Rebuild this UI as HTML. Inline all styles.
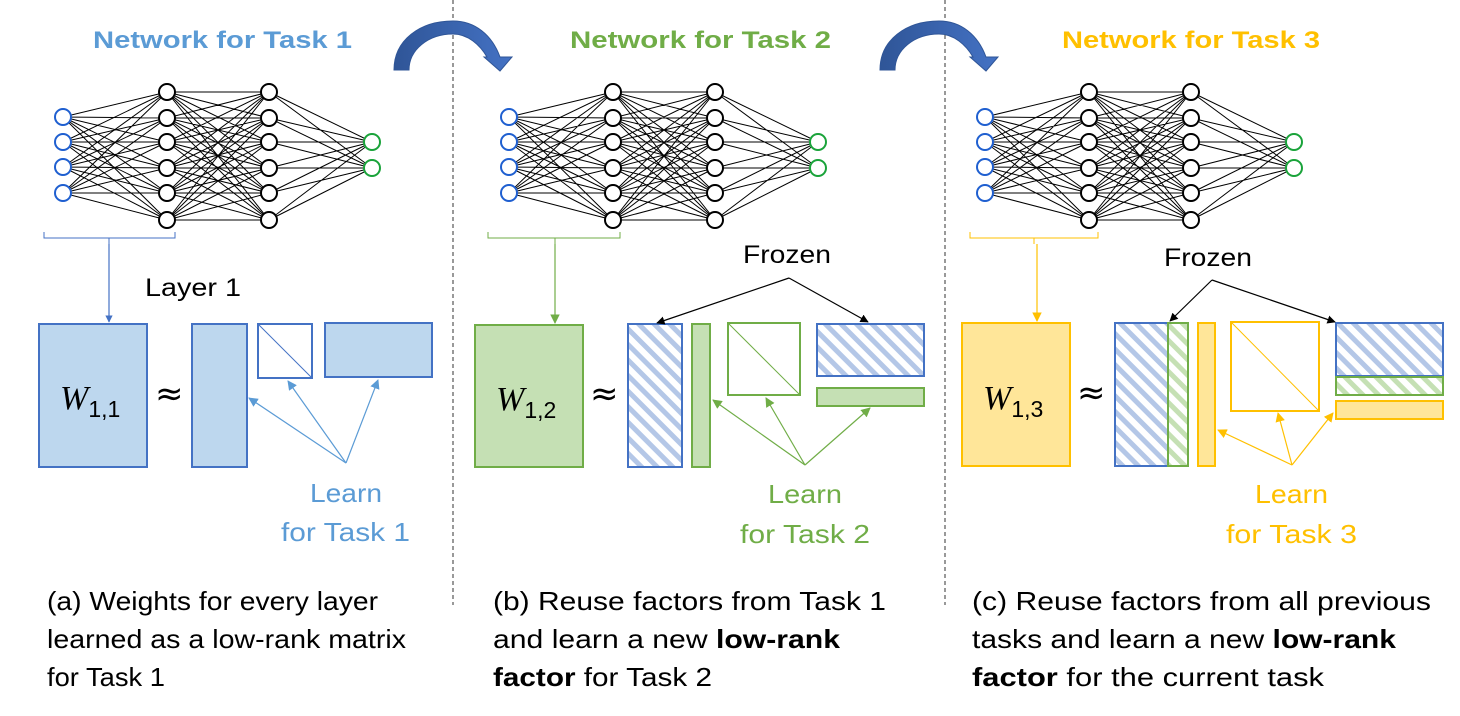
<!DOCTYPE html>
<html><head><meta charset="utf-8"><style>
html,body{margin:0;padding:0;background:#fff;}
svg{display:block;font-family:"Liberation Sans",sans-serif;}
</style></head><body>
<svg width="1460" height="716" viewBox="0 0 1460 716" xmlns="http://www.w3.org/2000/svg">
<defs>
<pattern id="hb" patternUnits="userSpaceOnUse" width="11" height="11" patternTransform="rotate(-45)">
<rect width="11" height="11" fill="#fff"/><rect width="5" height="11" fill="#b4c7e7"/></pattern>
<pattern id="hg" patternUnits="userSpaceOnUse" width="11" height="11" patternTransform="rotate(-45)">
<rect width="11" height="11" fill="#fff"/><rect width="5" height="11" fill="#c5e0b4"/></pattern>
<marker id="mk" viewBox="0 0 10 10" refX="9" refY="5" markerWidth="7" markerHeight="7" orient="auto-start-reverse"><path d="M0 0L10 5L0 10z" fill="#000"/></marker>
<marker id="mb" viewBox="0 0 10 10" refX="9" refY="5" markerWidth="8" markerHeight="8" orient="auto"><path d="M0 0L10 5L0 10z" fill="#5b9bd5"/></marker>
<marker id="mg" viewBox="0 0 10 10" refX="9" refY="5" markerWidth="8" markerHeight="8" orient="auto"><path d="M0 0L10 5L0 10z" fill="#70ad47"/></marker>
<marker id="my" viewBox="0 0 10 10" refX="9" refY="5" markerWidth="8" markerHeight="8" orient="auto"><path d="M0 0L10 5L0 10z" fill="#ffc000"/></marker>
<marker id="mb2" viewBox="0 0 10 10" refX="9" refY="5" markerWidth="6" markerHeight="6" orient="auto"><path d="M0 0L10 5L0 10z" fill="#4472c4"/></marker>
<linearGradient id="ag" x1="0" y1="0" x2="1" y2="0"><stop offset="0" stop-color="#2f5597"/><stop offset="1" stop-color="#4472c4"/></linearGradient>
<g id="net">
<path fill="none" stroke="#000" stroke-width="1" d="
M63 117L167 92M63 117L167 118M63 117L167 142M63 117L167 168M63 117L167 193M63 117L167 220
M63 142L167 92M63 142L167 118M63 142L167 142M63 142L167 168M63 142L167 193M63 142L167 220
M63 167L167 92M63 167L167 118M63 167L167 142M63 167L167 168M63 167L167 193M63 167L167 220
M63 193L167 92M63 193L167 118M63 193L167 142M63 193L167 168M63 193L167 193M63 193L167 220
M167 92L269 92M167 92L269 118M167 92L269 142M167 92L269 168M167 92L269 193M167 92L269 220
M167 118L269 92M167 118L269 118M167 118L269 142M167 118L269 168M167 118L269 193M167 118L269 220
M167 142L269 92M167 142L269 118M167 142L269 142M167 142L269 168M167 142L269 193M167 142L269 220
M167 168L269 92M167 168L269 118M167 168L269 142M167 168L269 168M167 168L269 193M167 168L269 220
M167 193L269 92M167 193L269 118M167 193L269 142M167 193L269 168M167 193L269 193M167 193L269 220
M167 220L269 92M167 220L269 118M167 220L269 142M167 220L269 168M167 220L269 193M167 220L269 220
M269 92L372 142M269 92L372 168M269 118L372 142M269 118L372 168M269 142L372 142M269 142L372 168
M269 168L372 142M269 168L372 168M269 193L372 142M269 193L372 168M269 220L372 142M269 220L372 168"/>
<g fill="#fff" stroke-width="2">
<g stroke="#1f5fd0"><circle cx="63" cy="117" r="8"/><circle cx="63" cy="142" r="8"/><circle cx="63" cy="167" r="8"/><circle cx="63" cy="193" r="8"/></g>
<g stroke="#000"><circle cx="167" cy="92" r="8"/><circle cx="167" cy="118" r="8"/><circle cx="167" cy="142" r="8"/><circle cx="167" cy="168" r="8"/><circle cx="167" cy="193" r="8"/><circle cx="167" cy="220" r="8"/>
<circle cx="269" cy="92" r="8"/><circle cx="269" cy="118" r="8"/><circle cx="269" cy="142" r="8"/><circle cx="269" cy="168" r="8"/><circle cx="269" cy="193" r="8"/><circle cx="269" cy="220" r="8"/></g>
<g stroke="#1aa33a"><circle cx="372" cy="142" r="8"/><circle cx="372" cy="168" r="8"/></g>
</g>
</g>
</defs>

<line x1="453" y1="0" x2="453" y2="605" stroke="#333" stroke-dasharray="4,3" stroke-width="1"/>
<line x1="945" y1="0" x2="945" y2="605" stroke="#333" stroke-dasharray="4,3" stroke-width="1"/>

<path d="M394 70C394 40 420 21 453 21C475 21 492 35 500 57L512 57L500 71L484 57L487 57C480 45 468 34 453 34C428 34 409 50 409 70Z" fill="url(#ag)" stroke="#2f5597" stroke-width="1"/>
<path transform="translate(486,0)" d="M394 70C394 40 420 21 453 21C475 21 492 35 500 57L512 57L500 71L484 57L487 57C480 45 468 34 453 34C428 34 409 50 409 70Z" fill="url(#ag)" stroke="#2f5597" stroke-width="1"/>

<g font-weight="bold" font-size="24">
<text x="93" y="48" fill="#5b9bd5" textLength="259" lengthAdjust="spacingAndGlyphs">Network for Task 1</text>
<text x="570" y="48" fill="#70ad47" textLength="261" lengthAdjust="spacingAndGlyphs">Network for Task 2</text>
<text x="1062" y="48" fill="#ffc000" textLength="258" lengthAdjust="spacingAndGlyphs">Network for Task 3</text>
</g>

<use href="#net"/>
<use href="#net" x="446"/>
<use href="#net" x="922"/>

<path d="M44 232V238H175V232M109 238V244" fill="none" stroke="#4472c4" stroke-width="1"/>
<line x1="109" y1="244" x2="109" y2="322" stroke="#4472c4" stroke-width="1.2" marker-end="url(#mb2)"/>
<text x="145" y="296" font-size="25" textLength="96" lengthAdjust="spacingAndGlyphs">Layer 1</text>
<g stroke="#4472c4" stroke-width="2" fill="#bdd7ee">
<rect x="39" y="324" width="108" height="143"/>
<rect x="192" y="324" width="55" height="143"/>
<rect x="258" y="324" width="54" height="54" fill="#fff"/>
<rect x="325" y="323" width="107" height="54"/>
</g>
<line x1="258" y1="324" x2="312" y2="378" stroke="#4472c4" stroke-width="1"/>
<g stroke="#5b9bd5" stroke-width="1.2">
<line x1="346" y1="463" x2="249" y2="398" marker-end="url(#mb)"/>
<line x1="346" y1="463" x2="288" y2="381" marker-end="url(#mb)"/>
<line x1="346" y1="463" x2="378" y2="380" marker-end="url(#mb)"/>
</g>

<path d="M488 232V238H620V232M555 238V244" fill="none" stroke="#70ad47" stroke-width="1"/>
<line x1="555" y1="244" x2="555" y2="323" stroke="#70ad47" stroke-width="1.2" marker-end="url(#mg)"/>
<rect x="475" y="325" width="108" height="142" fill="#c5e0b4" stroke="#70ad47" stroke-width="2"/>
<rect x="628" y="324" width="54" height="143" fill="url(#hb)" stroke="#4472c4" stroke-width="2"/>
<rect x="692" y="324" width="18" height="143" fill="#c5e0b4" stroke="#70ad47" stroke-width="2"/>
<rect x="728" y="323" width="72" height="72" fill="#fff" stroke="#70ad47" stroke-width="2"/>
<line x1="728" y1="323" x2="800" y2="395" stroke="#70ad47" stroke-width="1"/>
<rect x="817" y="324" width="107" height="52" fill="url(#hb)" stroke="#4472c4" stroke-width="2"/>
<rect x="817" y="388" width="107" height="18" fill="#c5e0b4" stroke="#70ad47" stroke-width="2"/>
<text x="743" y="263" font-size="25" textLength="88" lengthAdjust="spacingAndGlyphs">Frozen</text>
<g stroke="#000" stroke-width="1.2">
<line x1="789" y1="278" x2="657" y2="323" marker-end="url(#mk)"/>
<line x1="789" y1="278" x2="868" y2="322" marker-end="url(#mk)"/>
</g>
<g stroke="#70ad47" stroke-width="1.2">
<line x1="805" y1="465" x2="713" y2="400" marker-end="url(#mg)"/>
<line x1="805" y1="465" x2="766" y2="398" marker-end="url(#mg)"/>
<line x1="805" y1="465" x2="870" y2="408" marker-end="url(#mg)"/>
</g>

<path d="M970 232V238H1098V232M1034 238V244" fill="none" stroke="#ffc000" stroke-width="1"/>
<line x1="1037" y1="244" x2="1037" y2="321" stroke="#ffc000" stroke-width="1.2" marker-end="url(#my)"/>
<rect x="962" y="323" width="108" height="143" fill="#ffe699" stroke="#ffc000" stroke-width="2"/>
<rect x="1115" y="323" width="53" height="143" fill="url(#hb)" stroke="#4472c4" stroke-width="2"/>
<rect x="1168" y="323" width="20" height="143" fill="url(#hg)" stroke="#70ad47" stroke-width="2"/>
<rect x="1198" y="323" width="17" height="143" fill="#ffe699" stroke="#ffc000" stroke-width="2"/>
<rect x="1231" y="322" width="88" height="89" fill="#fff" stroke="#ffc000" stroke-width="2"/>
<line x1="1231" y1="322" x2="1319" y2="411" stroke="#ffc000" stroke-width="1"/>
<rect x="1336" y="323" width="107" height="53" fill="url(#hb)" stroke="#4472c4" stroke-width="2"/>
<rect x="1336" y="377" width="107" height="18" fill="url(#hg)" stroke="#70ad47" stroke-width="2"/>
<rect x="1336" y="401" width="107" height="18" fill="#ffe699" stroke="#ffc000" stroke-width="2"/>
<text x="1164" y="266" font-size="25" textLength="88" lengthAdjust="spacingAndGlyphs">Frozen</text>
<g stroke="#000" stroke-width="1.2">
<line x1="1212" y1="280" x2="1170" y2="321" marker-end="url(#mk)"/>
<line x1="1212" y1="280" x2="1335" y2="322" marker-end="url(#mk)"/>
</g>
<g stroke="#ffc000" stroke-width="1.2">
<line x1="1292" y1="465" x2="1218" y2="430" marker-end="url(#my)"/>
<line x1="1292" y1="465" x2="1278" y2="413" marker-end="url(#my)"/>
<line x1="1292" y1="465" x2="1333" y2="413" marker-end="url(#my)"/>
</g>

<g font-family="'Liberation Serif',serif" font-size="34">
<text x="60" y="409"><tspan font-style="italic">W</tspan><tspan font-size="23" dy="8" font-family="'Liberation Sans',sans-serif">1,1</tspan></text>
<text x="496" y="410"><tspan font-style="italic">W</tspan><tspan font-size="23" dy="8" font-family="'Liberation Sans',sans-serif">1,2</tspan></text>
<text x="983" y="409"><tspan font-style="italic">W</tspan><tspan font-size="23" dy="8" font-family="'Liberation Sans',sans-serif">1,3</tspan></text>
</g>
<g font-size="34" font-family="'DejaVu Sans',sans-serif">
<text x="155" y="405">≈</text>
<text x="590" y="405">≈</text>
<text x="1077" y="404">≈</text>
</g>

<g font-size="26">
<text x="310" y="502" fill="#5b9bd5" textLength="72" lengthAdjust="spacingAndGlyphs">Learn</text>
<text x="281" y="541" fill="#5b9bd5" textLength="129" lengthAdjust="spacingAndGlyphs">for Task 1</text>
<text x="768" y="503" fill="#70ad47" textLength="74" lengthAdjust="spacingAndGlyphs">Learn</text>
<text x="740" y="543" fill="#70ad47" textLength="130" lengthAdjust="spacingAndGlyphs">for Task 2</text>
<text x="1255" y="503" fill="#ffc000" textLength="73" lengthAdjust="spacingAndGlyphs">Learn</text>
<text x="1226" y="543" fill="#ffc000" textLength="131" lengthAdjust="spacingAndGlyphs">for Task 3</text>
</g>

<g font-size="26" fill="#000">
<text x="47" y="610" textLength="331" lengthAdjust="spacingAndGlyphs">(a) Weights for every layer</text>
<text x="47" y="648" textLength="359" lengthAdjust="spacingAndGlyphs">learned as a low-rank matrix</text>
<text x="47" y="686" textLength="118" lengthAdjust="spacingAndGlyphs">for Task 1</text>
<text x="493" y="610" textLength="393" lengthAdjust="spacingAndGlyphs">(b) Reuse factors from Task 1</text>
<text x="493" y="648" textLength="347" lengthAdjust="spacingAndGlyphs">and learn a new <tspan font-weight="bold">low-rank</tspan></text>
<text x="493" y="686" textLength="219" lengthAdjust="spacingAndGlyphs"><tspan font-weight="bold">factor</tspan> for Task 2</text>
<text x="972" y="610" textLength="459" lengthAdjust="spacingAndGlyphs">(c) Reuse factors from all previous</text>
<text x="972" y="648" textLength="424" lengthAdjust="spacingAndGlyphs">tasks and learn a new <tspan font-weight="bold">low-rank</tspan></text>
<text x="972" y="686" textLength="352" lengthAdjust="spacingAndGlyphs"><tspan font-weight="bold">factor</tspan> for the current task</text>
</g>
</svg>
</body></html>
